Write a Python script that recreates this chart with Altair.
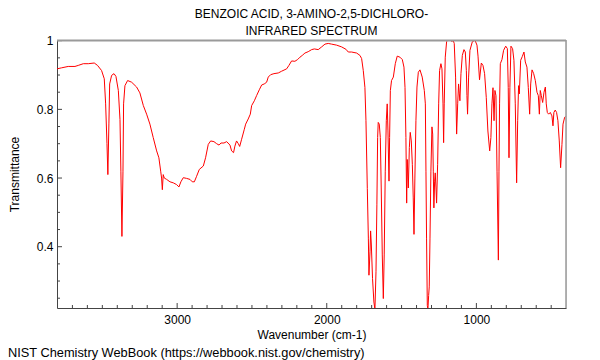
import altair as alt
import pandas as pd

# ---- spectrum ----
wavenumber = [
    3803, 3772, 3728, 3683, 3661, 3627, 3594, 3554, 3532, 3505, 3487, 3478, 3469, 3463, 3456, 3451,
    3438, 3422, 3409, 3393, 3382, 3376, 3369, 3362, 3358, 3349, 3331, 3304, 3271, 3249, 3226, 3204,
    3182, 3160, 3137, 3122, 3110, 3104, 3099, 3093, 3086, 3070, 3048, 3026, 3004, 2988, 2975, 2959,
    2937, 2914, 2899, 2885, 2870, 2852, 2825, 2810, 2792, 2776, 2754, 2736, 2720, 2707, 2687, 2669,
    2647, 2636, 2623, 2614, 2603, 2591, 2582, 2569, 2551, 2542, 2525, 2511, 2502, 2484, 2469, 2451,
    2435, 2418, 2402, 2391, 2375, 2353, 2324, 2302, 2268, 2253, 2235, 2213, 2195, 2179, 2164, 2146,
    2124, 2101, 2083, 2057, 2034, 2012, 1990, 1968, 1934, 1901, 1872, 1856, 1834, 1800, 1778, 1767,
    1756, 1745, 1738, 1729, 1722, 1718, 1711, 1707, 1702, 1694, 1685, 1678, 1671, 1665, 1660, 1656,
    1649, 1642, 1636, 1629, 1622, 1616, 1609, 1602, 1596, 1591, 1584, 1580, 1575, 1567, 1555, 1542,
    1529, 1511, 1495, 1484, 1477, 1471, 1466, 1462, 1455, 1448, 1442, 1435, 1428, 1422, 1417, 1411,
    1404, 1397, 1388, 1377, 1362, 1348, 1341, 1337, 1333, 1328, 1324, 1319, 1315, 1310, 1304, 1297,
    1292, 1288, 1284, 1279, 1275, 1270, 1266, 1259, 1252, 1246, 1237, 1230, 1223, 1219, 1215, 1208,
    1199, 1188, 1172, 1163, 1157, 1148, 1139, 1132, 1125, 1119, 1114, 1110, 1103, 1094, 1083, 1074,
    1067, 1063, 1059, 1052, 1043, 1027, 1009, 996, 989, 979, 967, 956, 945, 934, 923, 911,
    903, 896, 889, 882, 876, 869, 862, 853, 849, 845, 840, 829, 818, 804, 793, 787,
    782, 776, 769, 758, 749, 740, 731, 724, 718, 713, 704, 693, 682, 673, 662, 653,
    644, 637, 628, 617, 606, 595, 586, 579, 573, 566, 557, 548, 539, 533, 526, 517,
    506, 495, 488, 482, 473, 464, 455, 446, 437, 428, 421, 410, 403,
]
transmittance = [
    0.918, 0.921, 0.925, 0.925, 0.928, 0.933, 0.933, 0.935, 0.928, 0.913, 0.889, 0.816, 0.700, 0.610, 0.760, 0.874,
    0.899, 0.904, 0.896, 0.855, 0.770, 0.620, 0.430, 0.620, 0.816, 0.869, 0.884, 0.879, 0.865, 0.848, 0.811, 0.786,
    0.757, 0.718, 0.679, 0.659, 0.620, 0.600, 0.566, 0.610, 0.600, 0.596, 0.589, 0.586, 0.581, 0.574, 0.589, 0.601,
    0.599, 0.596, 0.589, 0.589, 0.605, 0.625, 0.635, 0.659, 0.698, 0.708, 0.706, 0.700, 0.696, 0.702, 0.702, 0.706,
    0.696, 0.679, 0.674, 0.693, 0.708, 0.700, 0.692, 0.713, 0.742, 0.757, 0.772, 0.786, 0.811, 0.825, 0.840, 0.857,
    0.871, 0.874, 0.879, 0.894, 0.901, 0.904, 0.906, 0.911, 0.918, 0.928, 0.941, 0.940, 0.945, 0.952, 0.957, 0.964,
    0.968, 0.974, 0.976, 0.974, 0.982, 0.990, 0.992, 0.990, 0.987, 0.982, 0.975, 0.967, 0.967, 0.964, 0.957, 0.948,
    0.913, 0.864, 0.767, 0.570, 0.425, 0.317, 0.385, 0.446, 0.405, 0.307, 0.239, 0.217, 0.327, 0.522, 0.718, 0.762,
    0.757, 0.718, 0.571, 0.376, 0.249, 0.376, 0.620, 0.767, 0.816, 0.737, 0.591, 0.718, 0.855, 0.884, 0.894, 0.933,
    0.955, 0.952, 0.945, 0.923, 0.864, 0.718, 0.527, 0.654, 0.571, 0.689, 0.733, 0.708, 0.640, 0.542, 0.436, 0.600,
    0.767, 0.865, 0.908, 0.915, 0.894, 0.855, 0.816, 0.620, 0.425, 0.229, 0.217, 0.258, 0.283, 0.425, 0.620, 0.749,
    0.728, 0.620, 0.513, 0.591, 0.615, 0.571, 0.527, 0.640, 0.816, 0.913, 0.933, 0.918, 0.816, 0.703, 0.816, 0.952,
    0.997, 1.003, 1.001, 0.997, 1.003, 0.992, 0.894, 0.728, 0.816, 0.874, 0.845, 0.825, 0.904, 0.957, 0.974, 0.967,
    0.913, 0.840, 0.786, 0.894, 0.972, 0.997, 1.001, 0.987, 0.955, 0.886, 0.935, 0.928, 0.904, 0.835, 0.737, 0.679,
    0.718, 0.816, 0.863, 0.767, 0.855, 0.840, 0.620, 0.361, 0.620, 0.816, 0.933, 0.945, 0.972, 0.984, 0.977, 0.864,
    0.659, 0.864, 0.984, 0.977, 0.943, 0.816, 0.586, 0.767, 0.869, 0.845, 0.943, 0.954, 0.967, 0.938, 0.923, 0.864,
    0.786, 0.874, 0.915, 0.904, 0.884, 0.850, 0.840, 0.786, 0.855, 0.840, 0.820, 0.850, 0.865, 0.816, 0.791, 0.786,
    0.791, 0.781, 0.752, 0.791, 0.798, 0.791, 0.767, 0.708, 0.630, 0.698, 0.757, 0.777, 0.779,
]

# ---- axes ----
x_major = [1000, 2000, 3000]
x_minor = [v for v in range(500, 3800, 100) if v not in x_major]
y_major = [0.4, 0.6, 0.8, 1.0]
y_minor = [0.25, 0.3, 0.35, 0.45, 0.5, 0.55, 0.65, 0.7, 0.75, 0.85, 0.9, 0.95]
x_domain = [401, 3803]
y_domain = [0.2215, 1.002]

title_lines = ["BENZOIC ACID, 3-AMINO-2,5-DICHLORO-", "INFRARED SPECTRUM"]
x_title = "Wavenumber (cm-1)"
y_title = "Transmittance"
credit = "NIST Chemistry WebBook (https://webbook.nist.gov/chemistry)"

W, H = 509, 268
FONT = "Liberation Sans"
AXC = "#444444"
BORDER = "#9a9a9a"

xs = alt.Scale(domain=x_domain, reverse=True, nice=False, zero=False)
ys = alt.Scale(domain=y_domain, nice=False, zero=False)

spec = pd.DataFrame({"wn": wavenumber, "T": transmittance})

line = alt.Chart(spec).mark_line(color="#ff0000", strokeWidth=1, clip=True).encode(
    x=alt.X("wn:Q", scale=xs, axis=alt.Axis(
        values=x_major, format="d", ticks=False, grid=False,
        labelFont=FONT, labelFontSize=12, labelColor="black", labelPadding=6,
        domainColor=AXC, domainWidth=1,
        title=x_title, titleFont=FONT, titleFontSize=12, titleFontWeight="normal",
        titleColor="black", titleX=W / 2, titleY=30.5, titleBaseline="alphabetic",
        titleAlign="center")),
    y=alt.Y("T:Q", scale=ys, axis=alt.Axis(
        values=y_major, format=".1~f", ticks=False, grid=False,
        labelFont=FONT, labelFontSize=12, labelColor="black", labelPadding=4,
        domainColor=AXC, domainWidth=1,
        title=y_title, titleFont=FONT, titleFontSize=12, titleFontWeight="normal",
        titleColor="black", titleAngle=270, titleX=-38.5, titleY=H / 2,
        titleBaseline="alphabetic", titleAlign="center")),
)

xminor = alt.Chart(pd.DataFrame({"wn": x_minor})).mark_rule(color=AXC, strokeWidth=1).encode(
    x=alt.X("wn:Q", scale=xs), y=alt.value(H), y2=alt.value(H - 3))
xmajor = alt.Chart(pd.DataFrame({"wn": x_major})).mark_rule(color=AXC, strokeWidth=1).encode(
    x=alt.X("wn:Q", scale=xs), y=alt.value(H), y2=alt.value(H - 5))
yminor = alt.Chart(pd.DataFrame({"T": y_minor})).mark_rule(color=AXC, strokeWidth=1).encode(
    y=alt.Y("T:Q", scale=ys), x=alt.value(0), x2=alt.value(3))
ymajor = alt.Chart(pd.DataFrame({"T": y_major})).mark_rule(color=AXC, strokeWidth=1).encode(
    y=alt.Y("T:Q", scale=ys), x=alt.value(0), x2=alt.value(5))

one = pd.DataFrame({"a": [0]})
top_border = alt.Chart(one).mark_rule(color=BORDER, strokeWidth=2).encode(
    x=alt.value(0), x2=alt.value(W), y=alt.value(0.5))
right_border = alt.Chart(one).mark_rule(color=BORDER, strokeWidth=1.5).encode(
    x=alt.value(W), y=alt.value(0), y2=alt.value(H))

def label(text, x, y, align="center", size=12):
    return alt.Chart(pd.DataFrame({"t": [text]})).mark_text(
        font=FONT, fontSize=size, color="black", align=align, baseline="alphabetic"
    ).encode(text="t:N", x=alt.value(x), y=alt.value(y))

t1 = label(title_lines[0], W / 2, -22.5)
t2 = label(title_lines[1], W / 2, -5.5)
cred = label(credit, -49, 316.5, align="left", size=12.8)

chart = alt.layer(
    line, xminor, xmajor, yminor, ymajor, top_border, right_border, t1, t2, cred
).properties(
    width=W, height=H,
    padding={"left": 49, "top": 32, "right": 26, "bottom": 52},
    autosize=alt.AutoSizeParams(type="none"),
).configure_view(stroke=None).configure(background="white")

chart.save("out.html", embed_options={"renderer": "svg", "actions": False})
